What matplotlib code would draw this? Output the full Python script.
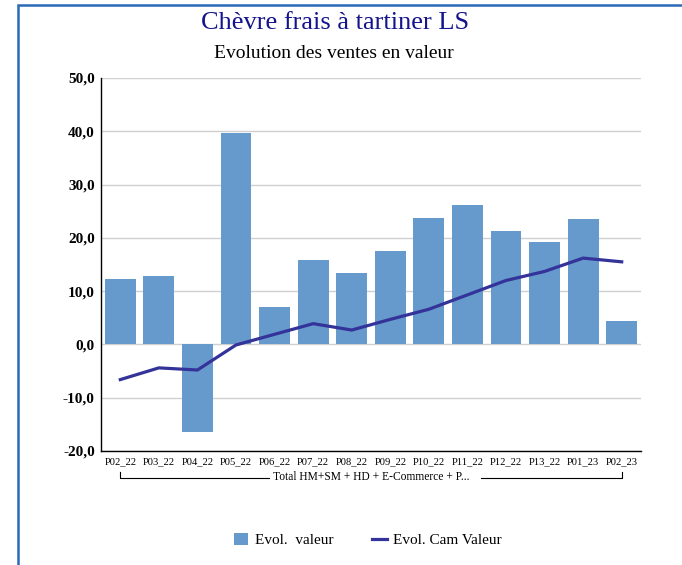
import numpy as np
import matplotlib.pyplot as plt
import matplotlib.transforms as mtransforms
from matplotlib.lines import Line2D
from matplotlib.patches import Rectangle

plt.rcParams['font.family'] = ['Liberation Serif', 'DejaVu Serif']

periods = ['P02_22', 'P03_22', 'P04_22', 'P05_22', 'P06_22', 'P07_22', 'P08_22',
           'P09_22', 'P10_22', 'P11_22', 'P12_22', 'P13_22', 'P01_23', 'P02_23']
evol_valeur = [12.3, 12.8, -16.4, 39.6, 7.0, 15.9, 13.4,
               17.6, 23.8, 26.2, 21.2, 19.3, 23.6, 4.4]
evol_cam = [-6.6, -4.4, -4.8, -0.1, 1.9, 3.9, 2.7,
            4.7, 6.6, 9.3, 12.0, 13.7, 16.2, 15.5]
yticks = [-20, -10, 0, 10, 20, 30, 40, 50]
group_label = 'Total HM+SM + HD + E-Commerce + P...'

fig = plt.figure(figsize=(6.82, 5.65), dpi=100)
ax = fig.add_axes([101 / 682, 1 - 451 / 565, 540 / 682, 373 / 565])

x = np.arange(len(periods))
bars = ax.bar(x, evol_valeur, width=0.8, color='#6699cc', zorder=2)
line, = ax.plot(x, evol_cam, color='#333399', lw=2.3, zorder=3)

ax.set_xlim(-0.5, len(periods) - 0.5)
ax.set_ylim(-20, 50)
ax.set_yticks(yticks)
ax.set_yticklabels([f'{v:.1f}'.replace('.', ',') for v in yticks],
                   fontsize=11, fontweight='bold')
ax.set_xticks(x)
ax.set_xticklabels(periods, fontsize=7.6)
ax.tick_params(axis='y', length=0, pad=4.5)
ax.tick_params(axis='x', length=0, pad=4.5)
ax.grid(axis='y', color='#d0d0d0', lw=1, zorder=0)
for s in ['top', 'right']:
    ax.spines[s].set_visible(False)
ax.spines['left'].set_linewidth(1)
ax.spines['bottom'].set_linewidth(1)

# group bracket under the period labels
trans = mtransforms.blended_transform_factory(ax.transData, fig.transFigure)
y_top = 1 - 472 / 565
y_bot = 1 - 478 / 565
ax.add_line(Line2D([0, 0, 3.85], [y_top, y_bot, y_bot], transform=trans,
                   color='black', lw=0.8, clip_on=False))
ax.add_line(Line2D([9.35, 13, 13], [y_bot, y_bot, y_top], transform=trans,
                   color='black', lw=0.8, clip_on=False))
ax.text(6.5, 1 - 470.5 / 565, group_label, transform=trans, fontsize=8.3,
        ha='center', va='top')

# titles
fig.text(335 / 682, 1 - 23 / 565, 'Chèvre frais à tartiner LS', fontsize=19,
         color='#14148c', ha='center', va='center')
fig.text(334 / 682, 1 - 53 / 565, 'Evolution des ventes en valeur', fontsize=14,
         color='black', ha='center', va='center')

# legend
fig.legend([bars, line], ['Evol.  valeur', 'Evol. Cam Valeur'], ncol=2,
           loc='center', bbox_to_anchor=(368 / 682, 1 - 540 / 565),
           frameon=False, fontsize=11, handlelength=0.95, handleheight=0.8,
           columnspacing=2.5, handletextpad=0.45)

# outer frame
fig.patches.append(Rectangle((18 / 682, -0.05), 1.0, 1 - 5 / 565 + 0.05,
                             transform=fig.transFigure, fill=False,
                             edgecolor='#2a6ab8', lw=1.8))

fig.savefig('out.png', dpi=100)
